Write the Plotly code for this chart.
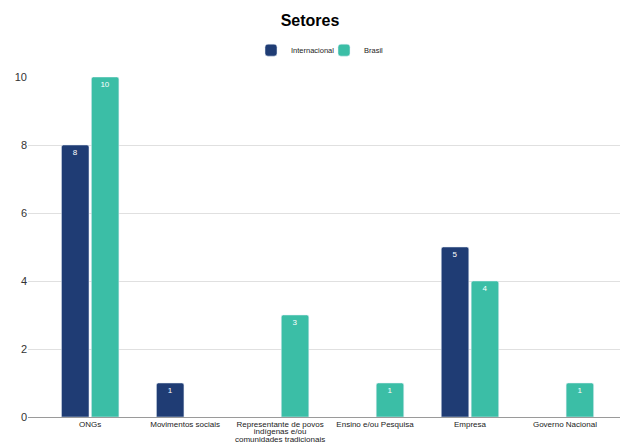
import plotly.graph_objects as go

categories = [
    "ONGs",
    "Movimentos sociais",
    "Representante de povos<br>indígenas e/ou<br>comunidades tradicionais",
    "Ensino e/ou Pesquisa",
    "Empresa",
    "Governo Nacional",
]
internacional = [8, 1, None, None, 5, None]
brasil = [10, None, 3, 1, 4, 1]

NAVY = "#1f3c74"
TEAL = "#3bbea6"

def labels(vals):
    return [str(v) if v is not None else "" for v in vals]

fig = go.Figure()
fig.add_trace(go.Bar(
    name="Internacional", x=categories, y=internacional, marker_color=NAVY,
    text=labels(internacional), textposition="inside", insidetextanchor="end",
    textfont=dict(color="white", size=8, family="Liberation Sans"),
    textangle=0, cliponaxis=False,
))
fig.add_trace(go.Bar(
    name="Brasil", x=categories, y=brasil, marker_color=TEAL,
    text=labels(brasil), textposition="inside", insidetextanchor="end",
    textfont=dict(color="white", size=8, family="Liberation Sans"),
    textangle=0, cliponaxis=False,
))

tick_text = ["<span style='font-size:8px'>" + c.replace("<br>", "</span><br><span style='font-size:8px'>") + "</span>"
             for c in categories]

fig.update_layout(
    width=620, height=443,
    margin=dict(l=28, r=0, t=77, b=26),
    paper_bgcolor="white", plot_bgcolor="white",
    font=dict(family="Liberation Sans, Arial, sans-serif", color="#222"),
    title=dict(text="<b>Setores</b>", x=0.5, xanchor="center", y=0.955, yanchor="middle",
               font=dict(size=16, color="#000")),
    barmode="group", bargap=0.37, bargroupgap=0.08, barcornerradius=2,
    uniformtext=dict(minsize=8, mode="show"),
    legend=dict(orientation="h", x=0.5, xanchor="center", y=1.079, yanchor="middle",
                font=dict(size=7.5, color="#222"), entrywidth=28, entrywidthmode="pixels",
                traceorder="normal"),
    showlegend=True,
)
fig.update_xaxes(
    range=[-0.655, 5.58], showgrid=False, showline=False, ticks="",
    tickmode="array", tickvals=categories, ticktext=tick_text, ticklabelstandoff=3,
    tickfont=dict(size=5.8, color="#222"), automargin=False, tickangle=0,
)
fig.update_yaxes(
    range=[0, 10], dtick=2, showgrid=True, gridcolor="#e0e0e0", gridwidth=1,
    zeroline=True, zerolinecolor="#9a9a9a", zerolinewidth=1,
    tickfont=dict(size=11, color="#333333"), ticks="", automargin=False,
)

fig.write_html("out.html", post_script="document.body.style.margin='0';",
               config={"displayModeBar": False})
